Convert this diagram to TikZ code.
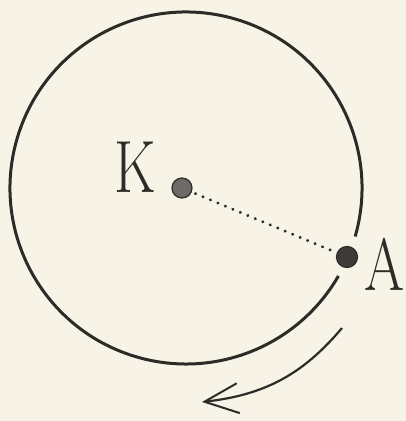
\documentclass[tikz,border=0pt]{standalone}
\usetikzlibrary{arrows.meta,bending}
\definecolor{paper}{HTML}{F8F3E7}
\definecolor{ink}{HTML}{2E2A28}
\definecolor{dotK}{HTML}{6E6A66}
\definecolor{dotA}{HTML}{3E3A38}
\tikzset{
  orbit/.style={draw=ink,line width=3pt},
  mass/.style={circle,inner sep=0pt,line width=1.2pt,draw=ink},
  lettr/.style={inner sep=0pt,text=ink,font=\fontsize{74}{74}\selectfont,xscale=0.78,transform shape},
  radius line/.style={draw=ink,line width=3.2pt,line cap=round,dash pattern=on 0.1pt off 8pt,shorten <=4pt},
  motion/.style={draw=ink,line width=2.2pt,-{Straight Barb[length=34pt,width=30pt,line width=2pt]}}
}
\begin{document}
\begin{tikzpicture}[x=1pt,y=1pt]
\fill[paper] (0,0) rectangle (406,421);
\useasboundingbox (0,0) rectangle (406,421);
% orbit with gap at A
\draw[orbit] (186,233) ++(-16:176) arc[start angle=-16,end angle=330,radius=176];
% masses
\node[mass,fill=dotK,minimum size=20pt] (K) at (182,233) {};
\node[mass,fill=dotA,minimum size=21pt] (A) at (347,164) {};
\node[lettr] (Kl) at (135,253.5) {K};
\node[lettr] (Al) at (384,157) {A};
% dotted radius
\draw[radius line] (K) -- (A);
% motion arrow
\coordinate (s) at (342,93);
\coordinate (e) at (202,19);
\draw[motion] (s) to[bend left=22] (e);
\end{tikzpicture}
\end{document}
